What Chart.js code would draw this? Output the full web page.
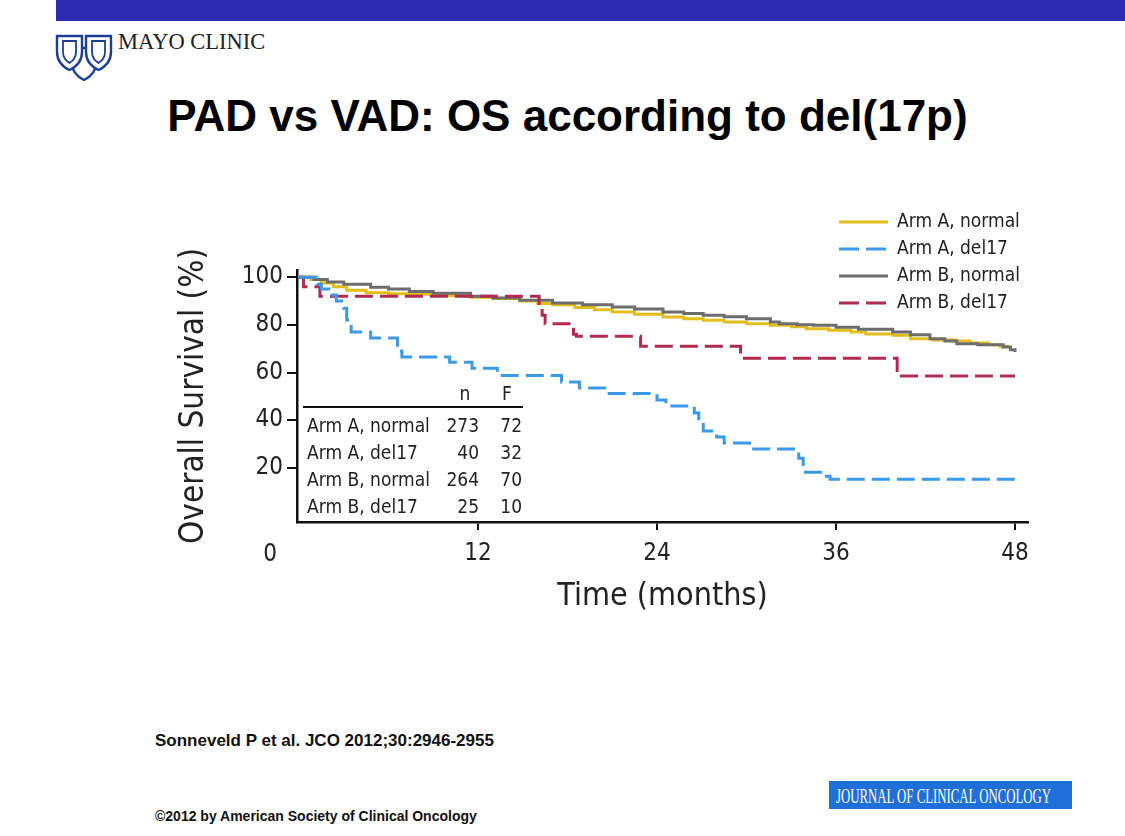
<!DOCTYPE html>
<html>
<head>
<meta charset="utf-8">
<title>PAD vs VAD: OS according to del(17p)</title>
<script src="https://cdn.jsdelivr.net/npm/chart.js@4.4.1/dist/chart.umd.min.js"></script>
<style>
  html, body { margin: 0; padding: 0; background: #fff; }
  body { width: 1125px; height: 836px; position: relative; overflow: hidden; font-family: "Liberation Sans", Arial, sans-serif; }
  #topBar { position: absolute; left: 56px; top: 0; width: 1069px; height: 21px; background: #2b2bb0; }
  #logo { position: absolute; left: 55px; top: 32px; width: 58px; height: 50px; }
  #brand { position: absolute; left: 118px; top: 29px; font-family: "Liberation Serif", "Times New Roman", serif; font-size: 22.5px; color: #222; }
  #title { position: absolute; left: 0; width: 1135px; top: 91px; text-align: center; font-weight: bold; font-size: 44px; color: #000; }
  #chartBox { position: absolute; left: 150px; top: 190px; width: 900px; height: 450px; }
  #cite { position: absolute; left: 155px; top: 731px; font-weight: bold; font-size: 17px; color: #111; }
  #copy { position: absolute; left: 155px; top: 808px; font-weight: bold; font-size: 14px; color: #111; }
  #jco { position: absolute; left: 829px; top: 781px; width: 243px; height: 28px; background: #1f6fd8; overflow: hidden; }
  #jco span { position: absolute; left: 7px; top: 3px; white-space: nowrap; color: #fff; font-family: "Liberation Serif", "Times New Roman", serif; font-size: 21px; transform: scaleX(0.61); transform-origin: left top; }
</style>
</head>
<body>
<div id="topBar"></div>
<svg id="logo" viewBox="0 0 58 50">
  <path d="M17,16 H41 V31 Q41,42 29,48 Q17,42 17,31 Z" fill="#fff" stroke="#1c3f94" stroke-width="2.4"/>
  <path d="M2,4 H27 V20 Q27,32 14.5,38 Q2,32 2,20 Z" fill="#fff" stroke="#1c3f94" stroke-width="2.4"/>
  <path d="M31,4 H56 V20 Q56,32 43.5,38 Q31,32 31,20 Z" fill="#fff" stroke="#1c3f94" stroke-width="2.4"/>
  <path d="M8,9 H21 V20 Q21,27 14.5,31 Q8,27 8,20 Z" fill="none" stroke="#1c3f94" stroke-width="1.8"/>
  <path d="M37,9 H50 V20 Q50,27 43.5,31 Q37,27 37,20 Z" fill="none" stroke="#1c3f94" stroke-width="1.8"/>
</svg>
<div id="brand">MAYO CLINIC</div>
<div id="title">PAD vs VAD: OS according to del(17p)</div>
<div id="chartBox"><canvas id="kmChart"></canvas></div>
<div id="cite">Sonneveld P et al. JCO 2012;30:2946-2955</div>
<div id="copy">©2012 by American Society of Clinical Oncology</div>
<div id="jco"><span>JOURNAL OF CLINICAL ONCOLOGY</span></div>

<script>
// axis ticks
const timeTicks = [12, 24, 36, 48];
const survivalTicks = [20, 40, 60, 80, 100];

// series names (legend and table)
const seriesLabels = ['Arm A, normal', 'Arm A, del17', 'Arm B, normal', 'Arm B, del17'];

// Arm A, normal - months / overall survival (%)
const armANormalMonths = [0, 0.8, 1.5, 2.3, 3.2, 4.5, 6, 7.5, 9.5, 11.5, 13, 14.8, 16, 17, 18.5, 19.8, 21, 22.5, 24.4, 25.8, 27.1, 28.5, 30, 31.6, 33, 34, 35.5, 37, 38, 39.8, 41, 42.5, 44, 45, 46.2, 47, 47.5];
const armANormalOS = [100, 99, 97.5, 96, 94.5, 93.5, 93, 92.8, 92.3, 91.6, 91, 90, 89, 88.4, 87.3, 86.3, 85.4, 84.4, 83.3, 82.6, 81.9, 81.2, 80.5, 79.8, 79.2, 78.4, 77.7, 77, 76.2, 75.6, 74.2, 73.6, 73.2, 72.4, 71.6, 71, 70.5];

// Arm A, del17
const armADelMonths = [0, 1.2, 1.5, 2.0, 2.5, 3.0, 3.2, 3.5, 4.8, 6.6, 6.9, 10.1, 11.6, 13.3, 17.6, 18.8, 20.5, 24.0, 24.6, 26.5, 26.8, 27.1, 28.0, 28.5, 30.2, 33.5, 33.8, 35.1, 35.6, 48];
const armADelOS = [100, 97, 95, 92.5, 90, 87, 82, 77, 74.5, 69, 66.5, 64.3, 61.8, 58.8, 56, 53.5, 51.2, 48.5, 46, 43, 39, 35.5, 33, 30.4, 27.9, 24, 18.2, 16.5, 15.2, 15.2];

// Arm B, normal
const armBNormalMonths = [0, 1, 1.9, 3, 4.8, 6, 7.4, 9, 11.5, 13, 14.8, 17, 19, 21, 22.5, 24.4, 25.8, 27.1, 28.5, 30, 31.6, 32.2, 33.4, 34.5, 36, 37.5, 39.8, 41, 42.3, 43.3, 44.1, 45.5, 47.2, 47.7, 48];
const armBNormalOS = [100, 99, 98, 97, 95.8, 95, 94, 93.3, 92, 91.3, 90.3, 89.2, 88.4, 87.5, 86.6, 85.4, 84.8, 84, 83.4, 82.5, 81.2, 80.5, 80, 79.8, 79, 78.2, 77, 75.8, 74.2, 73.2, 72.1, 71.6, 70.7, 69.5, 68.6];

// Arm B, del17
const armBDelMonths = [0, 0.3, 1.4, 16.1, 16.3, 16.5, 18.4, 18.6, 22.9, 29.6, 40.1, 48];
const armBDelOS = [100, 96, 92, 88, 84, 80.5, 76, 75.2, 71, 66, 58.5, 58.5];

// inset table: n patients, F events
const tableHeads = ['n', 'F'];
const tableN = [273, 40, 264, 25];
const tableF = [72, 32, 70, 10];

const seriesColors = ['#e3bd1c', '#3b99e8', '#6d6d6d', '#b02b50'];
const seriesDash = [[], [18, 7], [], [18, 7]];
const chartFont = '"Liberation Sans Narrow", "DejaVu Sans Condensed", "Roboto", sans-serif';

function toPoints(months, os) {
  return months.map((m, i) => ({ x: m, y: os[i] }));
}

const seriesPoints = [
  toPoints(armANormalMonths, armANormalOS),
  toPoints(armADelMonths, armADelOS),
  toPoints(armBNormalMonths, armBNormalOS),
  toPoints(armBDelMonths, armBDelOS)
];
const drawOrder = [3, 0, 2, 1];

// legend, inset table and the origin "0", drawn on the canvas
const kmExtras = {
  id: 'kmExtras',
  afterDraw(chart) {
    const ctx = chart.ctx;
    ctx.save();
    ctx.fillStyle = '#222';
    ctx.textBaseline = 'middle';

    // legend top right
    ctx.font = '19px ' + chartFont;
    seriesLabels.forEach((label, i) => {
      const y = 32 + i * 27;
      ctx.beginPath();
      ctx.strokeStyle = seriesColors[i];
      ctx.lineWidth = 3;
      ctx.setLineDash(seriesDash[i].length ? [20, 7] : []);
      ctx.moveTo(689, y);
      ctx.lineTo(738, y);
      ctx.stroke();
      ctx.setLineDash([]);
      ctx.textAlign = 'left';
      ctx.fillText(label, 747, y);
    });

    // inset table
    ctx.font = '19px ' + chartFont;
    ctx.textAlign = 'center';
    ctx.fillText(tableHeads[0], 315, 205);
    ctx.fillText(tableHeads[1], 357, 205);
    ctx.beginPath();
    ctx.strokeStyle = '#111';
    ctx.lineWidth = 2;
    ctx.moveTo(153, 217);
    ctx.lineTo(373, 217);
    ctx.stroke();
    seriesLabels.forEach((label, i) => {
      const y = 237 + i * 27;
      ctx.textAlign = 'left';
      ctx.fillText(label, 157, y);
      ctx.textAlign = 'right';
      ctx.fillText(String(tableN[i]), 329, y);
      ctx.fillText(String(tableF[i]), 372, y);
    });

    // origin label
    ctx.font = '24px ' + chartFont;
    ctx.textAlign = 'center';
    ctx.fillText('0', 120, 365);
    ctx.restore();
  }
};

new Chart(document.getElementById('kmChart'), {
  type: 'line',
  data: {
    datasets: seriesLabels.map((label, i) => ({
      label: label,
      data: seriesPoints[i],
      borderColor: seriesColors[i],
      borderWidth: 3,
      borderDash: seriesDash[i],
      stepped: true,
      pointRadius: 0,
      fill: false,
      order: drawOrder[i]
    }))
  },
  options: {
    responsive: true,
    maintainAspectRatio: false,
    animation: false,
    layout: { padding: { top: 80, right: 22, left: 0, bottom: 0 } },
    plugins: {
      legend: { display: false },
      tooltip: { enabled: false }
    },
    scales: {
      x: {
        type: 'linear',
        min: -0.134,
        max: 48.87,
        afterBuildTicks: (scale) => { scale.ticks = timeTicks.map(v => ({ value: v })); },
        afterFit: (scale) => { scale.height = 118; },
        grid: { drawOnChartArea: false, drawTicks: true, tickLength: 8, color: '#111', lineWidth: 2 },
        border: { color: '#111', width: 2.5 },
        ticks: { color: '#222', padding: 9, maxRotation: 0, font: { family: chartFont, size: 24 } },
        title: {
          display: true,
          text: 'Time (months)',
          color: '#222',
          padding: { top: 0, bottom: 24 },
          font: { family: chartFont, size: 32 }
        }
      },
      y: {
        type: 'linear',
        min: -2.7,
        max: 103,
        afterBuildTicks: (scale) => { scale.ticks = survivalTicks.map(v => ({ value: v })); },
        afterFit: (scale) => { scale.width = 147; },
        grid: { drawOnChartArea: false, drawTicks: true, tickLength: 10, color: '#111', lineWidth: 2 },
        border: { color: '#111', width: 2.5 },
        ticks: { color: '#222', padding: 4, font: { family: chartFont, size: 24 } },
        title: {
          display: true,
          text: 'Overall Survival (%)',
          color: '#222',
          padding: { top: 25, bottom: 0 },
          font: { family: chartFont, size: 33 }
        }
      }
    }
  },
  plugins: [kmExtras]
});
</script>
</body>
</html>
